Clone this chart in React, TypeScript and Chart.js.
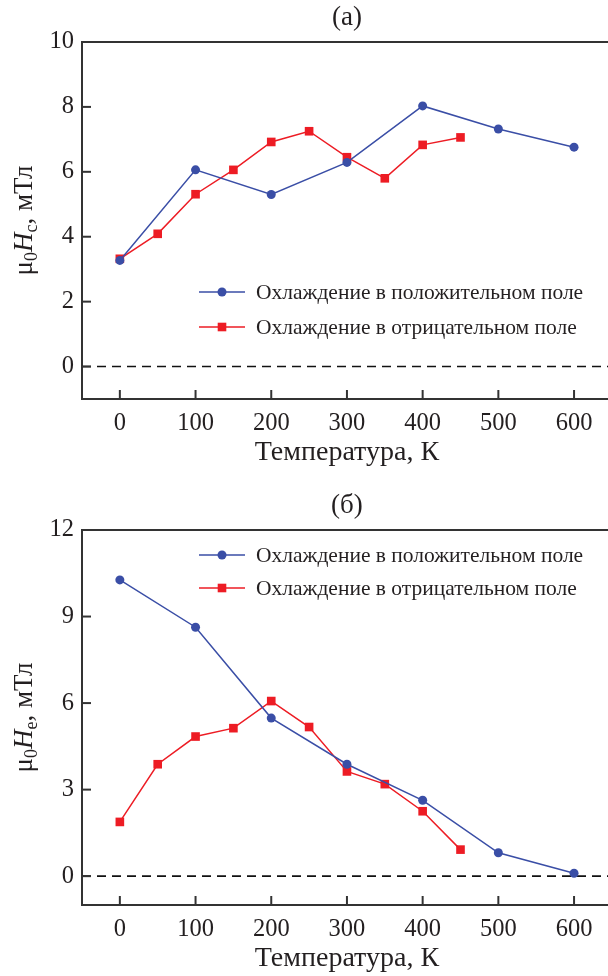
import React, { useEffect, useRef } from "react";
import { Chart, registerables } from "chart.js";

Chart.register(...registerables);

// ---- data ----
const X_BLUE = [0, 100, 200, 300, 400, 500, 600];
const X_RED = [0, 50, 100, 150, 200, 250, 300, 350, 400, 450];

const HC_POS = [3.27, 6.06, 5.3, 6.29, 8.03, 7.32, 6.76];
const HC_NEG = [3.32, 4.09, 5.31, 6.06, 6.92, 7.25, 6.45, 5.8, 6.83, 7.06];

const HE_POS = [10.27, 8.63, 5.48, 3.88, 2.63, 0.81, 0.1];
const HE_NEG = [1.88, 3.88, 4.84, 5.13, 6.07, 5.17, 3.63, 3.19, 2.25, 0.92];

const X_TICKS = [0, 100, 200, 300, 400, 500, 600];
const Y_TICKS_A = [0, 2, 4, 6, 8, 10];
const Y_TICKS_B = [0, 3, 6, 9, 12];

const LABEL_POS = "Охлаждение в положительном поле";
const LABEL_NEG = "Охлаждение в отрицательном поле";
const X_TITLE = "Температура, К";

const FONT = '"Liberation Serif", "Times New Roman", serif';
const INK = "#231f20";
const AXIS = "#333333";
const BLUE = "#3a4ea6";
const RED = "#ed1c24";

type Panel = {
  tag: string;
  sub: string;
  pos: number[];
  neg: number[];
  yTicks: number[];
  yMin: number;
  yMax: number;
  legendX: number;
  legendY: number[];
  xAxisHeight: number;
  xTitlePad: number;
};

const decor = {
  id: "decor",
  beforeDatasetsDraw(chart: any) {
    const { ctx, chartArea: ca, scales } = chart;
    const y0 = scales.y.getPixelForValue(0);
    ctx.save();
    ctx.strokeStyle = "#111";
    ctx.lineWidth = 1.6;
    ctx.setLineDash([9, 6]);
    ctx.beginPath();
    ctx.moveTo(ca.left, y0);
    ctx.lineTo(ca.right, y0);
    ctx.stroke();
    ctx.restore();
  },
  afterDraw(chart: any, _a: any, opts: any) {
    const { ctx, chartArea: ca, scales } = chart;
    const p: Panel = opts.panel;
    ctx.save();
    // top border
    ctx.strokeStyle = AXIS;
    ctx.lineWidth = 2;
    ctx.beginPath();
    ctx.moveTo(ca.left, ca.top);
    ctx.lineTo(ca.right, ca.top);
    ctx.stroke();
    // inward ticks
    for (const v of X_TICKS) {
      const x = scales.x.getPixelForValue(v);
      ctx.beginPath();
      ctx.moveTo(x, ca.bottom);
      ctx.lineTo(x, ca.bottom - 9);
      ctx.stroke();
    }
    for (const v of p.yTicks) {
      const y = scales.y.getPixelForValue(v);
      ctx.beginPath();
      ctx.moveTo(ca.left, y);
      ctx.lineTo(ca.left + 9, y);
      ctx.stroke();
    }
    // panel tag
    ctx.fillStyle = INK;
    ctx.font = `27px ${FONT}`;
    ctx.textAlign = "center";
    ctx.textBaseline = "middle";
    ctx.fillText(p.tag, (ca.left + ca.right) / 2, 18);
    // y title (rich text, rotated)
    const big = `27px ${FONT}`;
    const bigI = `italic 27px ${FONT}`;
    const small = `18px ${FONT}`;
    const segs = [
      { t: "\u03bc", f: big, dy: 0 },
      { t: "0", f: small, dy: 5 },
      { t: "H", f: bigI, dy: 0 },
      { t: p.sub, f: small, dy: 5 },
      { t: ", мТл", f: big, dy: 0 },
    ];
    let total = 0;
    for (const s of segs) {
      ctx.font = s.f;
      total += ctx.measureText(s.t).width;
    }
    ctx.translate(32, (ca.top + ca.bottom) / 2);
    ctx.rotate(-Math.PI / 2);
    ctx.textAlign = "left";
    ctx.textBaseline = "alphabetic";
    let cx = -total / 2;
    for (const s of segs) {
      ctx.font = s.f;
      ctx.fillText(s.t, cx, s.dy);
      cx += ctx.measureText(s.t).width;
    }
    ctx.restore();

    // legend
    ctx.save();
    const ds = chart.data.datasets;
    ds.forEach((d: any, i: number) => {
      const y = p.legendY[i];
      const x0 = p.legendX;
      ctx.strokeStyle = d.borderColor;
      ctx.lineWidth = 1.5;
      ctx.beginPath();
      ctx.moveTo(x0, y);
      ctx.lineTo(x0 + 46, y);
      ctx.stroke();
      ctx.fillStyle = d.borderColor;
      if (d.pointStyle === "circle") {
        ctx.beginPath();
        ctx.arc(x0 + 23, y, 4.5, 0, Math.PI * 2);
        ctx.fill();
      } else {
        ctx.fillRect(x0 + 23 - 4.3, y - 4.3, 8.6, 8.6);
      }
      ctx.fillStyle = INK;
      ctx.font = `21.5px ${FONT}`;
      ctx.textAlign = "left";
      ctx.textBaseline = "middle";
      ctx.fillText(d.label, x0 + 57, y + 1);
    });
    ctx.restore();
  },
};

function makeConfig(p: Panel): any {
  return {
    type: "line",
    data: {
      datasets: [
        {
          label: LABEL_POS,
          data: X_BLUE.map((x, i) => ({ x, y: p.pos[i] })),
          borderColor: BLUE,
          backgroundColor: BLUE,
          borderWidth: 1.5,
          pointStyle: "circle",
          pointRadius: 4.5,
          pointBorderWidth: 0,
        },
        {
          label: LABEL_NEG,
          data: X_RED.map((x, i) => ({ x, y: p.neg[i] })),
          borderColor: RED,
          backgroundColor: RED,
          borderWidth: 1.5,
          pointStyle: "rect",
          pointRadius: 6.1,
          pointBorderWidth: 0,
        },
      ],
    },
    options: {
      animation: false,
      responsive: false,
      layout: { padding: { top: 42, left: 0, right: 0, bottom: 0 } },
      plugins: {
        legend: { display: false },
        tooltip: { enabled: false },
        decor: { panel: p },
      },
      scales: {
        x: {
          type: "linear",
          min: -50,
          max: 650,
          grid: { display: false, drawTicks: false },
          border: { display: true, color: AXIS, width: 2 },
          afterBuildTicks: (s: any) => {
            s.ticks = X_TICKS.map((v) => ({ value: v }));
          },
          afterFit: (s: any) => {
            s.height = p.xAxisHeight;
          },
          ticks: {
            padding: 10,
            color: INK,
            maxRotation: 0,
            font: { family: FONT, size: 24.5 },
          },
          title: {
            display: true,
            text: X_TITLE,
            color: INK,
            font: { family: FONT, size: 28 },
            padding: { top: 0, bottom: p.xTitlePad },
          },
        },
        y: {
          type: "linear",
          min: p.yMin,
          max: p.yMax,
          grid: { display: false, drawTicks: false },
          border: { display: true, color: AXIS, width: 2 },
          afterBuildTicks: (s: any) => {
            s.ticks = p.yTicks.map((v) => ({ value: v }));
          },
          afterFit: (s: any) => {
            s.width = 82;
          },
          ticks: {
            padding: 8,
            color: INK,
            font: { family: FONT, size: 24.5 },
          },
        },
      },
    },
    plugins: [decor],
  };
}

const PANEL_A: Panel = {
  tag: "(a)",
  sub: "c",
  pos: HC_POS,
  neg: HC_NEG,
  yTicks: Y_TICKS_A,
  yMin: -1,
  yMax: 10,
  legendX: 199,
  legendY: [292, 327],
  xAxisHeight: 89,
  xTitlePad: 19,
};

const PANEL_B: Panel = {
  tag: "(б)",
  sub: "e",
  pos: HE_POS,
  neg: HE_NEG,
  yTicks: Y_TICKS_B,
  yMin: -1,
  yMax: 12,
  legendX: 199,
  legendY: [67, 100],
  xAxisHeight: 71,
  xTitlePad: 1,
};

function ChartCanvas({ panel, top }: { panel: Panel; top: number }) {
  const ref = useRef<HTMLCanvasElement>(null);
  useEffect(() => {
    const c = new Chart(ref.current as HTMLCanvasElement, makeConfig(panel));
    return () => c.destroy();
  }, [panel]);
  return (
    <canvas
      ref={ref}
      width={618}
      height={488}
      style={{ position: "absolute", left: 0, top, width: 618, height: 488 }}
    />
  );
}

export default function App() {
  return (
    <div
      style={{
        position: "absolute",
        left: 0,
        top: 0,
        width: 608,
        height: 976,
        overflow: "hidden",
        background: "#fff",
      }}
    >
      <ChartCanvas panel={PANEL_A} top={0} />
      <ChartCanvas panel={PANEL_B} top={488} />
    </div>
  );
}
